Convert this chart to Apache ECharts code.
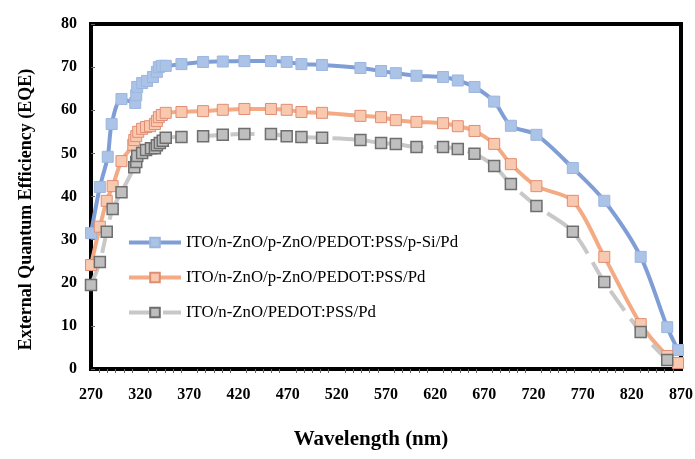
<!DOCTYPE html>
<html>
<head>
<meta charset="utf-8">
<script src="https://cdn.jsdelivr.net/npm/echarts@6/dist/echarts.min.js"></script>
<style>
  html, body { margin: 0; padding: 0; background: #fff; }
  #chart { width: 695px; height: 459px; }
</style>
</head>
<body>
<div id="chart"></div>
<script>
// wavelengths (nm) and EQE (%)
const siWl = [270, 279, 287, 291, 301, 315, 316, 317, 322, 327, 333, 337, 339, 342, 346, 362, 384, 404, 426, 453, 469, 484, 505, 544, 565, 580, 601, 628, 643, 660, 680, 697, 723, 760, 792, 829, 856, 867]
const siEqe = [31.5, 42.2, 49.2, 56.8, 62.6, 61.7, 63.5, 65.4, 66.3, 66.8, 67.7, 68.9, 70.0, 70.3, 70.3, 70.7, 71.2, 71.3, 71.4, 71.4, 71.2, 70.7, 70.5, 69.8, 69.1, 68.6, 68.0, 67.7, 66.9, 65.4, 62.0, 56.4, 54.3, 46.6, 39.0, 26.0, 9.7, 4.4]

const pznoWl = [270, 279, 286, 292, 301, 313, 314, 316, 318, 322, 326, 330, 335, 337, 339, 342, 346, 362, 384, 404, 426, 453, 469, 484, 505, 544, 565, 580, 601, 628, 643, 660, 680, 697, 723, 760, 792, 829, 856, 867]
const pznoEqe = [24.1, 33.0, 39.0, 42.4, 48.2, 52.0, 53.1, 54.0, 55.0, 55.7, 56.1, 56.3, 56.8, 57.5, 58.4, 58.9, 59.4, 59.6, 59.8, 60.1, 60.3, 60.3, 60.1, 59.6, 59.4, 58.7, 58.4, 57.7, 57.3, 57.0, 56.3, 55.2, 52.2, 47.5, 42.4, 39.0, 26.0, 10.4, 3.0, 1.4]

const znoWl = [270, 279, 286, 292, 301, 314, 316, 317, 322, 326, 331, 335, 337, 340, 343, 346, 362, 384, 404, 426, 453, 469, 484, 505, 544, 565, 580, 601, 628, 643, 660, 680, 697, 723, 760, 792, 829, 856]
const znoEqe = [19.5, 24.8, 31.8, 37.1, 41.0, 46.8, 48.0, 49.4, 50.1, 50.8, 51.2, 51.2, 51.9, 52.4, 52.9, 53.6, 53.8, 54.0, 54.3, 54.5, 54.5, 54.0, 53.8, 53.6, 53.1, 52.4, 52.2, 51.5, 51.5, 51.0, 49.9, 47.1, 42.9, 37.8, 31.8, 20.2, 8.6, 2.1]

const seriesNames = ['ITO/n-ZnO/p-ZnO/PEDOT:PSS/p-Si/Pd', 'ITO/n-ZnO/p-ZnO/PEDOT:PSS/Pd', 'ITO/n-ZnO/PEDOT:PSS/Pd']

const pairs = (xs, ys) => xs.map((x, i) => [x, ys[i]])
const serif = '"Liberation Serif", "Times New Roman", serif'

const chart = echarts.init(document.getElementById('chart'))
chart.setOption({
  animation: false,
  grid: {
    left: 91,
    right: 14,
    top: 24,
    bottom: 90,
    show: true,
    borderColor: '#000',
    borderWidth: 4,
    outerBoundsMode: 'none'
  },
  legend: {
    orient: 'vertical',
    left: 122,
    top: 229,
    itemWidth: 52,
    itemHeight: 12,
    itemGap: 18,
    lineStyle: { width: 4 },
    textStyle: { fontFamily: serif, fontSize: 16.8, color: '#000' },
    data: seriesNames
  },
  xAxis: {
    type: 'value',
    min: 270,
    max: 870,
    interval: 50,
    name: 'Wavelength (nm)',
    nameLocation: 'middle',
    nameGap: 60,
    nameTextStyle: { fontFamily: serif, fontSize: 21, fontWeight: 'bold', color: '#000', padding: [0, 30, 0, 0] },
    axisLine: { show: true, onZero: false, lineStyle: { color: '#000', width: 1 } },
    axisTick: { show: false },
    minorTick: { show: true, splitNumber: 6, length: 4, lineStyle: { color: '#666' } },
    splitLine: { show: false },
    axisLabel: { margin: 18, fontFamily: serif, fontSize: 16, fontWeight: 'bold', color: '#000' }
  },
  yAxis: {
    type: 'value',
    min: 0,
    max: 80,
    interval: 10,
    name: 'External Quantum Efficiency (EQE)',
    nameLocation: 'middle',
    nameGap: 56,
    nameTextStyle: { fontFamily: serif, fontSize: 18, fontWeight: 'bold', color: '#000', padding: [0, 26, 0, 0] },
    axisLine: { show: true, lineStyle: { color: '#000', width: 1 } },
    axisTick: { show: true, inside: true, length: 4, lineStyle: { color: '#666' } },
    splitLine: { show: false },
    axisLabel: { margin: 14, fontFamily: serif, fontSize: 16, fontWeight: 'bold', color: '#000' }
  },
  series: [
    {
      name: seriesNames[0],
      type: 'line',
      smooth: 0.3,
      symbol: 'rect',
      symbolSize: 11,
      lineStyle: { color: '#809ed6', width: 4 },
      itemStyle: { color: '#aac3e6', borderColor: '#9cb6e0', borderWidth: 1 },
      data: pairs(siWl, siEqe)
    },
    {
      name: seriesNames[1],
      type: 'line',
      smooth: 0.3,
      symbol: 'rect',
      symbolSize: 11,
      lineStyle: { color: '#f4aa82', width: 4 },
      itemStyle: { color: '#f9c9af', borderColor: '#e08d74', borderWidth: 1 },
      data: pairs(pznoWl, pznoEqe)
    },
    {
      name: seriesNames[2],
      type: 'line',
      smooth: 0.3,
      symbol: 'rect',
      symbolSize: 11,
      lineStyle: { color: '#c8c8c8', width: 4, type: [24, 10] },
      itemStyle: { color: '#bfbfbf', borderColor: '#6e6e6e', borderWidth: 1.5 },
      data: pairs(znoWl, znoEqe)
    }
  ]
})
</script>
</body>
</html>
